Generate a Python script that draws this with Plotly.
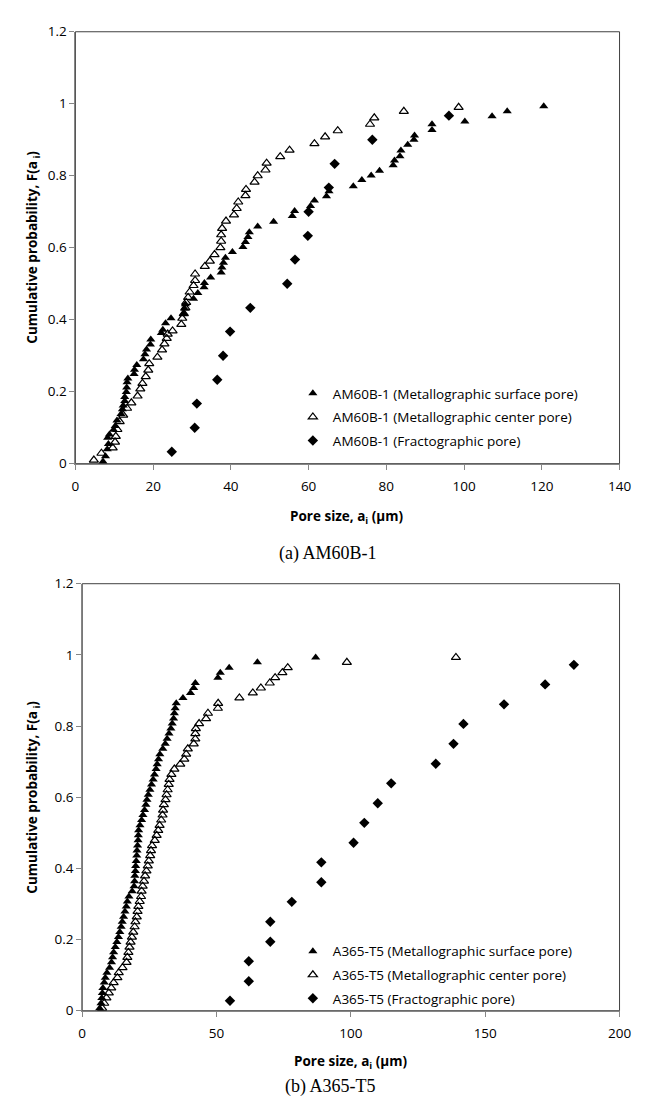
import plotly.graph_objects as go

# ---------------- (a) AM60B-1 ----------------
a_surf_x = [7.1, 7.75, 8.2, 8.5, 8.3, 8.75, 9.8, 10.25, 10.7, 11.75, 12.1, 12.3, 12.7, 12.7, 13.1, 13.2, 13.3, 13.5,
            15.1, 15.2, 15.8, 17.5, 17.9, 18.3, 19.3, 19.4, 22.1, 22.5, 23.2, 24.6, 27.9, 28.1, 28.3, 30.4, 31.5,
            33.1, 33.2, 34.8, 37.5, 37.7, 38.1, 38.6, 40.4, 43.1, 43.75, 44.4, 44.75, 46.9, 51.0, 55.8, 56.4, 60.5,
            61.5, 64.6, 65.25, 71.5, 73.7, 76.1, 78.25, 81.75, 82.1, 83.5, 83.75, 85.5, 87.1, 87.25, 91.75, 91.75,
            100.2, 107.2, 111.1, 120.5]
a_surf_y = [0.006, 0.021, 0.04, 0.055, 0.072, 0.081, 0.094, 0.105, 0.12, 0.138, 0.151, 0.162, 0.174, 0.185, 0.199,
            0.212, 0.226, 0.237, 0.249, 0.261, 0.274, 0.29, 0.304, 0.317, 0.331, 0.345, 0.363, 0.372, 0.39, 0.404,
            0.417, 0.431, 0.443, 0.458, 0.474, 0.49, 0.502, 0.517, 0.531, 0.545, 0.558, 0.572, 0.588, 0.602, 0.616,
            0.63, 0.643, 0.659, 0.672, 0.688, 0.702, 0.716, 0.731, 0.743, 0.757, 0.771, 0.788, 0.801, 0.814, 0.829,
            0.842, 0.854, 0.87, 0.886, 0.9, 0.912, 0.927, 0.943, 0.951, 0.965, 0.979, 0.993]

a_cent_x = [4.75, 6.7, 9.6, 10.2, 10.4, 10.8, 11.4, 12.3, 13.3, 14.4, 16.0, 16.7, 17.25, 18.1, 18.75, 19.0, 21.1,
            22.3, 22.9, 23.5, 23.75, 25.0, 27.25, 27.5, 27.9, 28.3, 28.5, 29.0, 29.4, 30.4, 30.8, 30.8, 33.3, 34.6,
            35.8, 37.3, 37.5, 37.5, 37.75, 38.75, 40.8, 41.5, 41.9, 43.75, 43.9, 46.1, 46.9, 48.9, 49.2, 52.7, 55.1,
            61.5, 64.25, 67.5, 75.8, 76.9, 84.5, 98.6]
a_cent_y = [0.01, 0.029, 0.044, 0.06, 0.076, 0.095, 0.117, 0.135, 0.154, 0.169, 0.188, 0.208, 0.223, 0.242, 0.26,
            0.278, 0.296, 0.316, 0.333, 0.348, 0.36, 0.369, 0.387, 0.404, 0.417, 0.433, 0.448, 0.462, 0.477, 0.495,
            0.509, 0.527, 0.548, 0.563, 0.581, 0.6, 0.618, 0.636, 0.654, 0.674, 0.691, 0.709, 0.727, 0.745, 0.762,
            0.782, 0.8, 0.816, 0.835, 0.853, 0.871, 0.889, 0.908, 0.925, 0.943, 0.961, 0.979, 0.99]

a_frac_x = [24.8, 30.7, 31.25, 36.5, 38.0, 39.8, 45.0, 54.5, 56.5, 59.8, 60.0, 65.2, 66.7, 76.4, 96.1]
a_frac_y = [0.033, 0.1, 0.167, 0.233, 0.3, 0.367, 0.433, 0.5, 0.567, 0.633, 0.7, 0.767, 0.833, 0.9, 0.967]

# ---------------- (b) A365-T5 ----------------
b_surf_x = [6.5, 7.0, 7.3, 7.5, 7.7, 8.2, 8.6, 9.2, 10.2, 10.9, 11.3, 11.7, 12.3, 12.9, 13.5, 14.0, 14.5, 14.9,
            15.4, 15.9, 16.4, 16.8, 17.4, 18.6, 19.3, 19.5, 19.6, 19.8, 19.9, 20.1, 20.3, 20.4, 20.6, 20.8, 20.9,
            21.0, 21.5, 22.1, 22.6, 23.2, 23.7, 24.1, 24.6, 25.2, 25.8, 26.4, 26.9, 27.5, 27.9, 28.4, 28.9, 30.0,
            30.9, 31.6, 32.3, 33.0, 33.5, 34.0, 34.3, 34.6, 35.0, 37.5, 40.3, 41.5, 42.1, 50.5, 51.4, 54.7, 65.2, 86.9]
b_surf_y = [0.007, 0.021, 0.036, 0.05, 0.064, 0.079, 0.093, 0.107, 0.121, 0.136, 0.15, 0.164, 0.179, 0.193, 0.207,
            0.221, 0.236, 0.25, 0.264, 0.279, 0.293, 0.307, 0.321, 0.336, 0.35, 0.364, 0.379, 0.393, 0.407, 0.421,
            0.436, 0.45, 0.464, 0.479, 0.493, 0.507, 0.521, 0.536, 0.55, 0.564, 0.579, 0.593, 0.607, 0.621, 0.636,
            0.65, 0.664, 0.679, 0.693, 0.707, 0.721, 0.736, 0.75, 0.764, 0.779, 0.793, 0.807, 0.821, 0.836, 0.85,
            0.864, 0.879, 0.893, 0.907, 0.921, 0.936, 0.95, 0.964, 0.979, 0.993]

b_cent_x = [7.4, 8.2, 9.0, 9.9, 10.8, 11.7, 13.1, 13.6, 15.0, 16.5, 16.8, 17.2, 17.6, 18.0, 18.5, 19.0, 19.5, 19.8,
            20.3, 20.6, 20.9, 21.4, 21.9, 22.1, 22.5, 23.0, 23.4, 23.9, 24.4, 24.8, 25.3, 25.6, 26.0, 27.0, 27.7,
            28.3, 28.8, 29.4, 29.9, 30.1, 30.4, 31.0, 31.4, 31.8, 32.2, 32.5, 33.2, 34.3, 36.5, 38.0, 38.7, 39.3,
            41.5, 42.1, 42.1, 42.3, 43.5, 46.1, 46.8, 50.5, 50.6, 58.5, 63.5, 66.5, 69.8, 71.8, 74.5, 76.5, 98.5, 139.1]
b_cent_y = [0.007, 0.021, 0.036, 0.05, 0.064, 0.079, 0.093, 0.107, 0.121, 0.136, 0.15, 0.164, 0.179, 0.193, 0.207,
            0.221, 0.236, 0.25, 0.264, 0.279, 0.293, 0.307, 0.321, 0.336, 0.35, 0.364, 0.379, 0.393, 0.407, 0.421,
            0.436, 0.45, 0.464, 0.479, 0.493, 0.507, 0.521, 0.536, 0.55, 0.564, 0.579, 0.593, 0.607, 0.621, 0.636,
            0.65, 0.664, 0.679, 0.693, 0.707, 0.721, 0.736, 0.75, 0.764, 0.779, 0.793, 0.807, 0.821, 0.836, 0.85,
            0.864, 0.879, 0.893, 0.907, 0.921, 0.936, 0.95, 0.964, 0.979, 0.993]

b_frac_x = [55, 62, 62, 70, 70, 78, 89, 89, 101, 105, 110, 115, 131.6, 138.2, 141.9, 157, 172.3, 183]
b_frac_y = [0.028, 0.083, 0.139, 0.194, 0.25, 0.306, 0.361, 0.417, 0.472, 0.528, 0.583, 0.639, 0.694, 0.75,
            0.806, 0.861, 0.917, 0.972]

x_ticks_a = [0, 20, 40, 60, 80, 100, 120, 140]
x_ticks_b = [0, 50, 100, 150, 200]
y_ticks = [0, 0.2, 0.4, 0.6, 0.8, 1, 1.2]
y_tick_text = ["0", "0.2", "0.4", "0.6", "0.8", "1", "1.2"]

names_a = ["AM60B-1 (Metallographic surface pore)", "AM60B-1 (Metallographic center pore)",
           "AM60B-1 (Fractographic pore)"]
names_b = ["A365-T5 (Metallographic surface pore)", "A365-T5 (Metallographic center pore)",
           "A365-T5 (Fractographic pore)"]

W, H = 645, 1117
FONT = "Open Sans"

fig = go.Figure()

def add_series(xs, ys, name, symbol, xa, ya, legend, grp):
    fig.add_trace(go.Scatter(
        x=xs, y=ys, mode="markers", name=name, xaxis=xa, yaxis=ya, legend=legend, legendgroup=grp,
        marker=dict(symbol=symbol, size=8, color="black",
                    line=dict(color="black", width=1.2 if "open" in symbol else 0))))

add_series(a_surf_x, a_surf_y, names_a[0], "triangle-up", "x", "y", "legend", "a1")
add_series(a_cent_x, a_cent_y, names_a[1], "triangle-up-open", "x", "y", "legend", "a2")
add_series(a_frac_x, a_frac_y, names_a[2], "diamond", "x", "y", "legend", "a3")
add_series(b_surf_x, b_surf_y, names_b[0], "triangle-up", "x2", "y2", "legend2", "b1")
add_series(b_cent_x, b_cent_y, names_b[1], "triangle-up-open", "x2", "y2", "legend2", "b2")
add_series(b_frac_x, b_frac_y, names_b[2], "diamond", "x2", "y2", "legend2", "b3")

# plot-area pixel boxes
top = dict(l=65, r=623, t=15, b=454)
bot = dict(l=72, r=623, t=576, b=1010)

def dom_x(b):
    return [b["l"] / W, b["r"] / W]

def dom_y(b):
    return [1 - b["b"] / H, 1 - b["t"] / H]

axis_common = dict(showgrid=False, zeroline=False, showline=True, linecolor="#868686", linewidth=1,
                   ticks="outside", ticklen=5, tickcolor="#868686", mirror=False,
                   tickfont=dict(family=FONT, size=13.5, color="black"))

leg_common = dict(xanchor="left", yanchor="top", bgcolor="rgba(0,0,0,0)", traceorder="grouped",
                  font=dict(family=FONT, size=13.5, color="black"), itemwidth=30, tracegroupgap=3)

fig.update_layout(
    width=W, height=H, margin=dict(l=0, r=0, t=0, b=0),
    paper_bgcolor="white", plot_bgcolor="white", showlegend=True,
    xaxis=dict(domain=dom_x(top), range=[0, 140], tickvals=x_ticks_a, anchor="y", ticklabelstandoff=5,
               **axis_common),
    yaxis=dict(domain=dom_y(top), range=[0, 1.2], tickvals=y_ticks, ticktext=y_tick_text, anchor="x",
               **axis_common),
    xaxis2=dict(domain=dom_x(bot), range=[0, 200], tickvals=x_ticks_b, anchor="y2", ticklabelstandoff=5,
                **axis_common),
    yaxis2=dict(domain=dom_y(bot), range=[0, 1.2], tickvals=y_ticks, ticktext=y_tick_text, anchor="x2",
                **axis_common),
    legend=dict(x=288 / W, y=1 - 367 / H, **leg_common),
    legend2=dict(x=288 / W, y=1 - 934 / H, **leg_common),
)

# plot-area borders
for b in (top, bot):
    fig.add_shape(type="rect", xref="paper", yref="paper",
                  x0=b["l"] / W, x1=b["r"] / W, y0=1 - b["b"] / H, y1=1 - b["t"] / H,
                  line=dict(color="#404040", width=1), layer="below")

ann_font = dict(family=FONT, size=13.5, color="black")
anns = [
    dict(text="<b>Pore size, a<sub>i</sub> (µm)</b>", x=(top["l"] + top["r"]) / 2 / W, y=1 - 508 / H),
    dict(text="<b>Pore size, a<sub>i</sub> (µm)</b>", x=(bot["l"] + bot["r"]) / 2 / W, y=1 - 1062 / H),
    dict(text="<b>Cumulative probability, F(a<sub> i</sub>)</b>", x=22 / W, y=1 - 234 / H, textangle=-90),
    dict(text="<b>Cumulative probability, F(a<sub> i</sub>)</b>", x=22 / W, y=1 - 793 / H, textangle=-90),
]
for a in anns:
    fig.add_annotation(xref="paper", yref="paper", showarrow=False, font=ann_font,
                       xanchor="center", yanchor="middle", **a)

cap_font = dict(family="Liberation Serif", size=18, color="black")
fig.add_annotation(text="(a) AM60B-1", xref="paper", yref="paper", x=324 / W, y=1 - 545 / H,
                   showarrow=False, font=cap_font)
fig.add_annotation(text="(b) A365-T5", xref="paper", yref="paper", x=326 / W, y=1 - 1100 / H,
                   showarrow=False, font=cap_font)

fig.write_html("out.html")
